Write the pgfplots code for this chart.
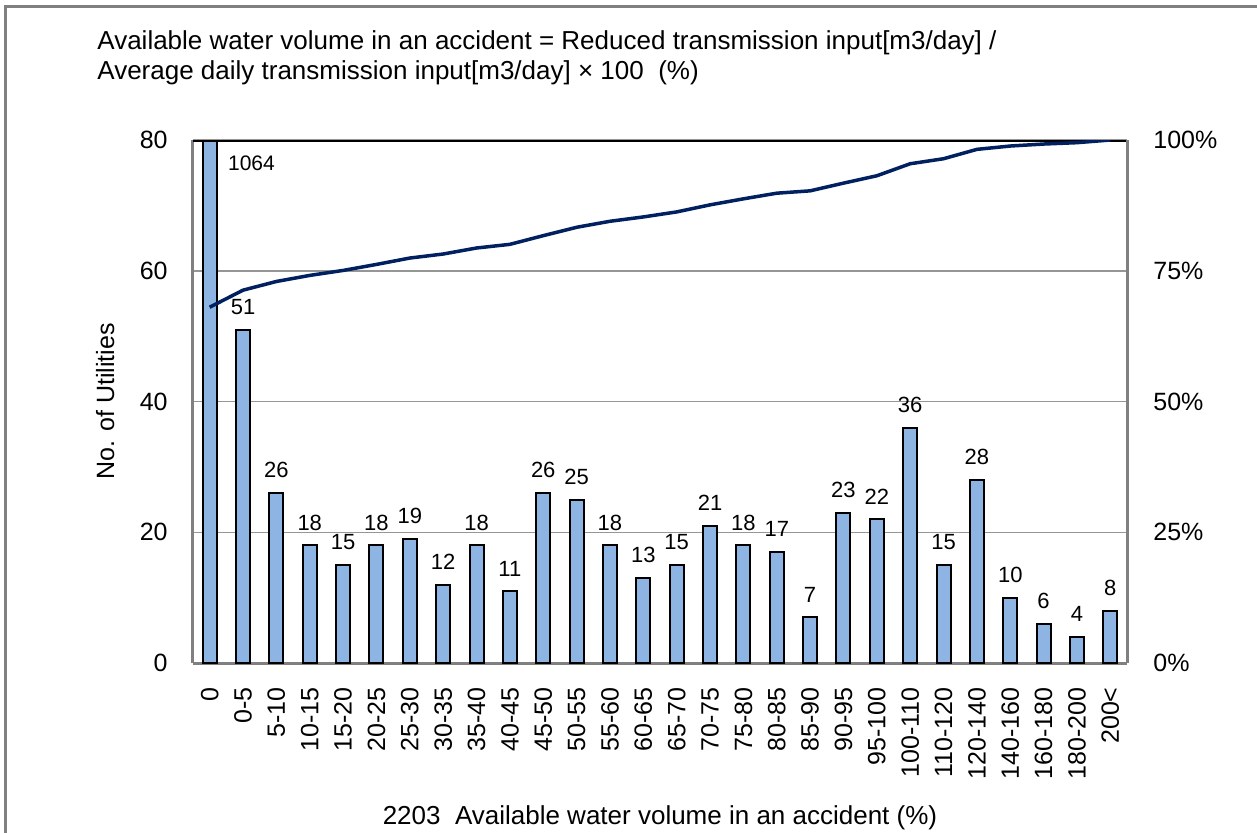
\documentclass[border=0pt]{standalone}
\usepackage{pgfplots}
\pgfplotsset{compat=1.18}
\usepackage{pgfplotstable}
\usepackage{fontspec}
\setmainfont{Liberation Sans}
\definecolor{barblue}{RGB}{141,180,226}
\definecolor{navy}{RGB}{0,32,96}
\definecolor{axgray}{RGB}{128,128,128}
\definecolor{gridgray}{RGB}{150,150,150}

\pgfplotstableread{
x n
1 51
2 26
3 18
4 15
5 18
6 19
7 12
8 18
9 11
10 26
11 25
12 18
13 13
14 15
15 21
16 18
17 17
18 7
19 23
20 22
21 36
22 15
23 28
24 10
25 6
26 4
27 8
}\bars

\pgfplotstableread{
x p
0 68.03
1 71.29
2 72.95
3 74.11
4 75.06
5 76.21
6 77.43
7 78.20
8 79.35
9 80.05
10 81.71
11 83.31
12 84.46
13 85.29
14 86.25
15 87.60
16 88.75
17 89.83
18 90.28
19 91.75
20 93.16
21 95.46
22 96.42
23 98.21
24 98.85
25 99.23
26 99.49
27 100
}\cum

\begin{document}
\begin{tikzpicture}[font=\fontsize{12.5}{15}\selectfont]
\useasboundingbox (-96.5pt,-84.5pt) rectangle (532pt,331.5pt);
\draw[axgray, line width=1.5pt] (-93.5pt,-120pt) -- (-93.5pt,328.5pt) -- (600pt,328.5pt);
\node[anchor=base west, inner sep=0pt, font=\fontsize{13}{15}\selectfont] at (-48pt,307pt) {Available water volume in an accident = Reduced transmission input[m3/day] /};
\node[anchor=base west, inner sep=0pt, font=\fontsize{13}{15}\selectfont] at (-48pt,292pt) {Average daily transmission input[m3/day] × 100\ \ (\%)};
\begin{axis}[
  scale only axis, width=467pt, height=261.5pt,
  /pgf/number format/assume math mode=true,
  xmin=-0.5, xmax=27.5, ymin=0, ymax=80,
  ytick={0,20,40,60,80},
  ymajorgrids, grid style={gridgray, line width=0.75pt},
  axis x line*=bottom, axis y line*=left,
  axis line style={axgray, line width=1.5pt},
  major tick length=0pt,
  tick label style={font=\fontsize{12.5}{15}\selectfont},
  xtick={0,...,27},
  xticklabels={0,0-5,5-10,10-15,15-20,20-25,25-30,30-35,35-40,40-45,45-50,50-55,55-60,60-65,65-70,70-75,75-80,80-85,85-90,90-95,95-100,100-110,110-120,120-140,140-160,160-180,180-200,200<},
  xticklabel style={yshift=-12pt, rotate=90, anchor=east, inner sep=0pt},
  yticklabel style={anchor=east, inner sep=0pt, xshift=-12.5pt},
  ybar, bar width=7pt, bar shift=0pt,
  ylabel={No. of Utilities},
  ylabel style={at={(axis description cs:-0.094,0.5)}, anchor=center, font=\fontsize{12.5}{15}\selectfont},
  xlabel={2203\ \ Available water volume in an accident (\%)},
  xlabel style={at={(axis description cs:0.5,-0.2964)}, anchor=center, font=\fontsize{13}{15}\selectfont},
]
\addplot[ybar, fill=barblue, draw=black, line width=1pt] coordinates {(0,1064)};
\addplot[ybar, fill=barblue, draw=black, line width=1pt,
  nodes near coords,
  every node near coord/.append style={font=\fontsize{11}{13}\selectfont, inner sep=0pt, yshift=7pt, anchor=south, black}]
  table[x=x,y=n]{\bars};
\draw[black, line width=1.5pt] (rel axis cs:0,1) -- (rel axis cs:1,1);
\node[anchor=north west, inner sep=0pt, font=\fontsize{10.5}{12}\selectfont, xshift=9pt, yshift=-7.5pt] at (axis cs:0,80) {1064};
\end{axis}
\begin{axis}[
  scale only axis, width=467pt, height=261.5pt,
  /pgf/number format/assume math mode=true,
  xmin=-0.5, xmax=27.5, ymin=0, ymax=100,
  axis y line*=right, axis x line=none,
  axis line style={axgray, line width=1.5pt},
  major tick length=0pt,
  tick label style={font=\fontsize{12.5}{15}\selectfont},
  ytick={0,25,50,75,100},
  yticklabels={0\%,25\%,50\%,75\%,100\%},
  yticklabel style={anchor=west, inner sep=0pt, xshift=13pt},
]
\addplot[navy, line width=1.75pt, mark=none, line join=round] table[x=x,y=p]{\cum};
\end{axis}
\end{tikzpicture}
\end{document}
